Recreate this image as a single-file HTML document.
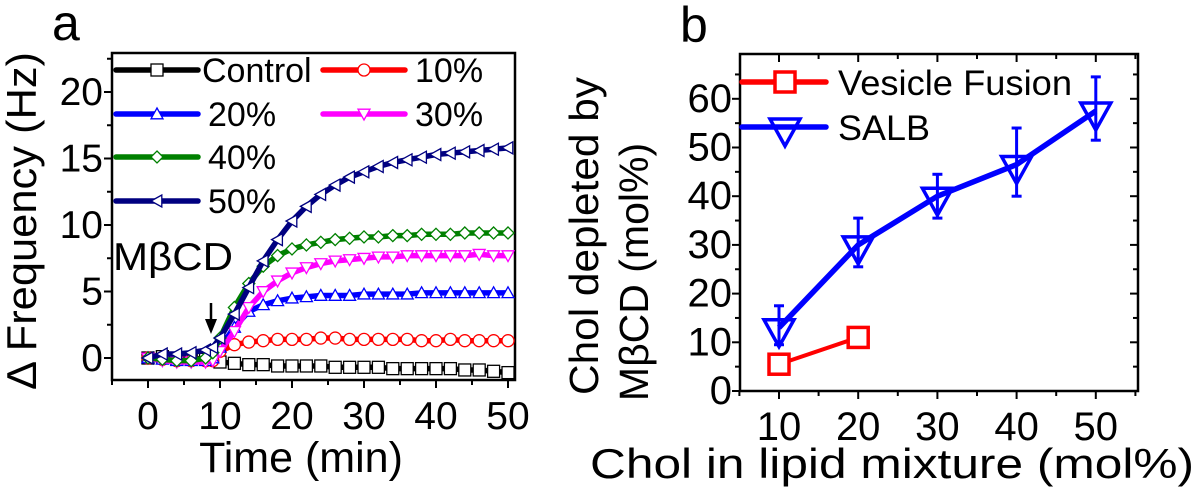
<!DOCTYPE html>
<html><head><meta charset="utf-8"><style>
html,body{margin:0;padding:0;background:#fff}
svg{display:block;font-family:"Liberation Sans",sans-serif}
</style></head><body>
<svg id="fig" width="1200" height="493" viewBox="0 0 1200 493">
<g id="pa"></g>
<g id="pb"></g>
</svg>
<script>
// ---- Panel a data ----
const timesA = [0,2,4,6,8,9,10,12,14,16,18,20,22,24,26,28,30,32,34,36,38,40,42,44,46,48,50];
const seriesNamesA = ["Control","10%","20%","30%","40%","50%"];
const controlVals = [0,0.1,-0.1,0,-0.1,0,-0.3,-0.4,-0.5,-0.5,-0.6,-0.6,-0.6,-0.6,-0.7,-0.7,-0.7,-0.7,-0.8,-0.8,-0.8,-0.8,-0.8,-0.9,-0.9,-1.0,-1.1];
const p10Vals = [0,-0.1,-0.2,-0.2,-0.2,-0.2,0.5,1.0,1.2,1.3,1.4,1.4,1.4,1.5,1.5,1.4,1.4,1.4,1.4,1.4,1.3,1.3,1.4,1.3,1.3,1.3,1.3];
const p20Vals = [0,-0.1,-0.2,-0.2,-0.2,0,0.8,2.3,3.5,4.0,4.3,4.5,4.6,4.7,4.7,4.7,4.8,4.8,4.8,4.8,4.9,4.9,4.9,4.9,4.9,4.9,4.9];
const p30Vals = [0,-0.2,-0.3,-0.3,-0.3,-0.2,0.5,2.0,3.8,5.0,5.8,6.4,6.8,7.1,7.3,7.4,7.5,7.6,7.6,7.7,7.7,7.7,7.7,7.7,7.8,7.7,7.7];
const p40Vals = [0,-0.1,-0.2,-0.2,0,0.4,1.5,3.8,5.6,6.9,7.7,8.2,8.5,8.7,8.9,9.0,9.1,9.1,9.2,9.2,9.3,9.3,9.3,9.4,9.4,9.4,9.4];
const p50Vals = [0,0.3,0.3,0.4,0.6,0.8,1.5,3.3,5.3,7.3,8.9,10.3,11.4,12.3,13.0,13.6,14.0,14.4,14.7,14.9,15.1,15.3,15.4,15.5,15.6,15.7,15.8];
const xTicksA = [0,10,20,30,40,50];
const yTicksA = [0,5,10,15,20];
// ---- Panel b data ----
const categoriesB = [10,20,30,40,50];
const salbVals = [13,30,40,46.5,57.5];
const salbErrHi = [17.5,35.5,44.5,54,64.5];
const salbErrLo = [9.5,25.5,35.5,40,51.5];
const vfCats = [10,20];
const vfVals = [5.5,11];
const xTicksB = [10,20,30,40,50];
const yTicksB = [0,10,20,30,40,50,60];

const NS="http://www.w3.org/2000/svg";
function mk(parent,tag,attrs,text){const e=document.createElementNS(NS,tag);for(const k in attrs)e.setAttribute(k,attrs[k]);if(attrs.textLength)e.setAttribute("lengthAdjust","spacingAndGlyphs");if(text!==undefined)e.textContent=text;parent.appendChild(e);return e;}
function marker(g,type,x,y,s,color,fill,sw){
  let e;
  if(type==="square") e=mk(g,"rect",{x:x-s,y:y-s,width:2*s,height:2*s,fill:fill,stroke:color,"stroke-width":sw});
  else if(type==="circle") e=mk(g,"circle",{cx:x,cy:y,r:s,fill:fill,stroke:color,"stroke-width":sw});
  else {
    let pts;
    if(type==="up") pts=[[x,y-s],[x+s,y+s*0.8],[x-s,y+s*0.8]];
    else if(type==="down") pts=[[x,y+s],[x+s,y-s*0.8],[x-s,y-s*0.8]];
    else if(type==="diamond") pts=[[x,y-s],[x+s,y],[x,y+s],[x-s,y]];
    else pts=[[x-s,y],[x+s*0.8,y-s],[x+s*0.8,y+s]];
    e=mk(g,"polygon",{points:pts.map(p=>p.join(",")).join(" "),fill:fill,stroke:color,"stroke-width":sw});
  }
  return e;
}

// ===== Panel a =====
const pa=document.getElementById("pa");
const ax={l:112,t:53,r:515,b:380};
const xA=v=>148+v*7.2, yA=v=>358-v*13.3;
const la=mk(pa,"text",{x:52,y:40,"font-size":50},"a");


const frameA=mk(pa,"rect",{x:ax.l,y:ax.t,width:ax.r-ax.l,height:ax.b-ax.t,fill:"none",stroke:"#000","stroke-width":2.5});


xTicksA.forEach((v,i)=>{
  mk(pa,"line",{x1:xA(v),x2:xA(v),y1:ax.b,y2:ax.b+8,stroke:"#000","stroke-width":2});
  if(i<xTicksA.length-1) mk(pa,"line",{x1:xA(v+5),x2:xA(v+5),y1:ax.b,y2:ax.b+5,stroke:"#000","stroke-width":2});
  const t=mk(pa,"text",{x:xA(v),y:429,"font-size":39,"text-anchor":"middle"},String(v));
  
  
});
mk(pa,"line",{x1:xA(-5),x2:xA(-5),y1:ax.b,y2:ax.b+5,stroke:"#000","stroke-width":2});
yTicksA.forEach((v)=>{
  mk(pa,"line",{x1:ax.l-8,x2:ax.l,y1:yA(v),y2:yA(v),stroke:"#000","stroke-width":2});
  mk(pa,"line",{x1:ax.l-5,x2:ax.l,y1:yA(v+2.5),y2:yA(v+2.5),stroke:"#000","stroke-width":2});
  const t=mk(pa,"text",{x:ax.l-9,y:yA(v)+13,"font-size":39,"text-anchor":"end"},String(v));
  
  
});
const xtA=mk(pa,"text",{x:301,y:472,"font-size":43,"text-anchor":"middle"},"Time (min)");


const ytA=mk(pa,"text",{x:0,y:0,"font-size":42,"text-anchor":"middle",textLength:338,transform:"translate(36,221) rotate(-90)"},"Δ Frequency (Hz)");


const colorsA=["#000","#ff0000","#0000ff","#ff00ff","#008000","#000080"];
const markersA=["square","circle","up","down","diamond","left"];
const valsA=[controlVals,p10Vals,p20Vals,p30Vals,p40Vals,p50Vals];
valsA.forEach((vals,si)=>{
  const g=mk(pa,"g",{});
  
  
  mk(g,"polyline",{points:vals.map((v,i)=>xA(timesA[i])+","+yA(v)).join(" "),fill:"none",stroke:colorsA[si],"stroke-width":5.5,"stroke-linejoin":"round"});
  vals.forEach((v,i)=>{const m=marker(g,markersA[si],xA(timesA[i]),yA(v),6,colorsA[si],"#fff",1.3);
    
    });
});
// arrow annotation
mk(pa,"line",{x1:211,x2:211,y1:303,y2:325,stroke:"#000","stroke-width":2.5});
mk(pa,"polygon",{points:"205,319 217,319 211,334",fill:"#000"});
const ann=mk(pa,"text",{x:113,y:270,"font-size":39,textLength:120},"MβCD");


// legend a
const legPos=[[116,70],[323,70],[116,114],[323,114],[116,157],[116,201]];
seriesNamesA.forEach((n,i)=>{
  const [lx,ly]=legPos[i];
  const g=mk(pa,"g",{});
  
  
  mk(g,"line",{x1:lx,x2:lx+82,y1:ly,y2:ly,stroke:colorsA[i],"stroke-width":5.5,"stroke-linecap":"round"});
  marker(g,markersA[i],lx+41,ly,6,colorsA[i],"#fff",1.3);
  mk(g,"text",{x:i===0?lx+86:lx+92,y:ly+12,"font-size":34},n);
});

// ===== Panel b =====
const pb=document.getElementById("pb");
const bx={l:740,t:54,r:1138,b:391};
const xB=v=>779+(v-10)*7.92, yB=v=>391-v*4.87;
const lb=mk(pb,"text",{x:680,y:42,"font-size":50},"b");


const frameB=mk(pb,"rect",{x:bx.l,y:bx.t,width:bx.r-bx.l,height:bx.b-bx.t,fill:"none",stroke:"#000","stroke-width":2.5});


xTicksB.forEach(v=>{
  mk(pb,"line",{x1:xB(v),x2:xB(v),y1:bx.b,y2:bx.b+8,stroke:"#000","stroke-width":2});
  mk(pb,"line",{x1:xB(v),x2:xB(v),y1:bx.t,y2:bx.t+8,stroke:"#000","stroke-width":2});
  mk(pb,"line",{x1:xB(v+5),x2:xB(v+5),y1:bx.b,y2:bx.b+5,stroke:"#000","stroke-width":2});
  mk(pb,"line",{x1:xB(v+5),x2:xB(v+5),y1:bx.t,y2:bx.t+5,stroke:"#000","stroke-width":2});
  const t=mk(pb,"text",{x:xB(v),y:440,"font-size":40,"text-anchor":"middle"},String(v));
  
  
});
mk(pb,"line",{x1:xB(5),x2:xB(5),y1:bx.b,y2:bx.b+5,stroke:"#000","stroke-width":2});
yTicksB.forEach(v=>{
  mk(pb,"line",{x1:bx.l-8,x2:bx.l,y1:yB(v),y2:yB(v),stroke:"#000","stroke-width":2});
  mk(pb,"line",{x1:bx.r-8,x2:bx.r,y1:yB(v),y2:yB(v),stroke:"#000","stroke-width":2});
  mk(pb,"line",{x1:bx.l-5,x2:bx.l,y1:yB(v+5),y2:yB(v+5),stroke:"#000","stroke-width":2});
  mk(pb,"line",{x1:bx.r-5,x2:bx.r,y1:yB(v+5),y2:yB(v+5),stroke:"#000","stroke-width":2});
  const t=mk(pb,"text",{x:bx.l-8,y:yB(v)+13,"font-size":40,"text-anchor":"end"},String(v));
  
  
});
const xtB=mk(pb,"text",{x:892,y:478,"font-size":42,"text-anchor":"middle",textLength:604},"Chol in lipid mixture (mol%)");


const ytB1=mk(pb,"text",{x:0,y:0,"font-size":41,"text-anchor":"middle",textLength:318,transform:"translate(598,236) rotate(-90)"},"Chol depleted by");


const ytB2=mk(pb,"text",{x:0,y:0,"font-size":41,"text-anchor":"middle",transform:"translate(648,272) rotate(-90)"},"MβCD (mol%)");


// SALB
const gs=mk(pb,"g",{});


categoriesB.forEach((c,i)=>{
  mk(gs,"line",{x1:xB(c),x2:xB(c),y1:yB(salbErrLo[i]),y2:yB(salbErrHi[i]),stroke:"#0000ff","stroke-width":3});
  mk(gs,"line",{x1:xB(c)-5,x2:xB(c)+5,y1:yB(salbErrLo[i]),y2:yB(salbErrLo[i]),stroke:"#0000ff","stroke-width":3});
  mk(gs,"line",{x1:xB(c)-5,x2:xB(c)+5,y1:yB(salbErrHi[i]),y2:yB(salbErrHi[i]),stroke:"#0000ff","stroke-width":3});
});
mk(gs,"polyline",{points:categoriesB.map((c,i)=>xB(c)+","+yB(salbVals[i])).join(" "),fill:"none",stroke:"#0000ff","stroke-width":5.5});
categoriesB.forEach((c,i)=>{const m=marker(gs,"down",xB(c),yB(salbVals[i])+4,15,"#0000ff","none",3.5);
  
  });
// VF
const gv=mk(pb,"g",{});


mk(gv,"polyline",{points:vfCats.map((c,i)=>xB(c)+","+yB(vfVals[i])).join(" "),fill:"none",stroke:"#ff0000","stroke-width":4});
vfCats.forEach((c,i)=>{const m=marker(gv,"square",xB(c),yB(vfVals[i]),10,"#ff0000","#fff",3.5);
  
  });
// legend b
const lgs=[["Vesicle Fusion","#ff0000","square",82,234],["SALB","#0000ff","down",127,92]];
lgs.forEach(([n,c,t,y,w])=>{
  const g=mk(pb,"g",{});
  
  
  mk(g,"line",{x1:742,x2:826,y1:y,y2:y,stroke:c,"stroke-width":5.5,"stroke-linecap":"round"});
  marker(g,t,785,t==="down"?y+4:y,t==="down"?15:10,c,t==="down"?"none":"#fff",3.5);
  mk(g,"text",{x:838,y:y+13,"font-size":35,textLength:w},n);
});
</script>
</body></html>
